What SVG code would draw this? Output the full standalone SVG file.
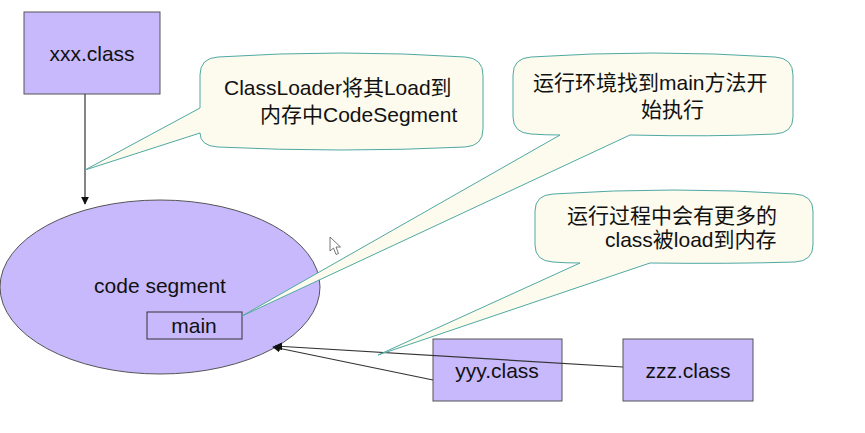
<svg xmlns="http://www.w3.org/2000/svg" width="865" height="433" viewBox="0 0 865 433">
<defs>
<style>
.node{fill:#c8b9fd;stroke:#555;stroke-width:1}
.t{font-family:"Liberation Sans","Noto Sans CJK SC",sans-serif;font-size:21px;fill:#111}
.c{text-anchor:middle}
.conn{stroke:#333;stroke-width:1.2;fill:none;marker-end:url(#ah)}
.call{fill:#fdfaee;stroke:#4fa9a3;stroke-width:1}
</style>
<marker id="ah" viewBox="0 0 10 10" refX="9" refY="5" markerWidth="8" markerHeight="8" orient="auto" markerUnits="userSpaceOnUse">
<path d="M0,0 L10,5 L0,10 Z" fill="#111"/>
</marker>
</defs>
<rect width="865" height="433" fill="#fff"/>
<g id="codeSegment">
<ellipse cx="160" cy="287" rx="160" ry="87" class="node"/>
<text x="160" y="293" class="t c">code segment</text>
</g>
<g id="main">
<rect x="147" y="312" width="95" height="27" fill="none" stroke="#333" stroke-width="1"/>
<text x="194" y="333" class="t c">main</text>
</g>
<g id="xxx">
<rect x="24" y="12" width="136" height="82" class="node"/>
<text x="92" y="61" class="t c">xxx.class</text>
</g>
<g id="yyy">
<rect x="433" y="339" width="129" height="62" class="node"/>
<text x="497" y="378" class="t c">yyy.class</text>
</g>
<g id="zzz">
<rect x="623" y="339" width="130" height="62" class="node"/>
<text x="688" y="378" class="t c">zzz.class</text>
</g>
<g id="connectors">
<line x1="85" y1="94" x2="85" y2="204" class="conn" stroke="#666"/>
<line x1="433" y1="380" x2="273" y2="347" class="conn"/>
<line x1="623" y1="367" x2="275" y2="346" class="conn"/>
</g>
<g id="callout1">
<path class="call" d="M218,57 Q341,49 465,57 Q483,58 483,75 V129 Q483,146 465,147 Q341,153 218,147 Q200,146 200,133 L85,170 L200,108 V75 Q200,58 218,57 Z"/>
<text x="224" y="95" class="t">ClassLoader将其Load到</text>
<text x="260" y="122" class="t">内存中CodeSegment</text>
</g>
<g id="callout2">
<path class="call" d="M531,57 Q653,49 775,57 Q793,58 793,75 V117 Q793,133 775,134 Q712,137 630,135 L242,316 L560,135 Q545,135 531,134 Q513,133 513,117 V75 Q513,58 531,57 Z"/>
<text x="533" y="90" class="t">运行环境找到main方法开</text>
<text x="641" y="117" class="t">始执行</text>
</g>
<g id="callout3">
<path class="call" d="M553,194 Q674,186 795,194 Q813,195 813,211 V245 Q813,261 795,262 Q730,264 650,263 L378,355 L580,263 Q565,263 553,262 Q535,261 535,245 V211 Q535,195 553,194 Z"/>
<text x="567" y="223" class="t">运行过程中会有更多的</text>
<text x="605" y="247" class="t">class被load到内存</text>
</g>
<path d="M330,237 L330,251 L333.5,248 L336,254.5 L338.5,253.5 L336,247 L340.5,247 Z" fill="#fff" stroke="#555" stroke-width="0.8"/>
</svg>
